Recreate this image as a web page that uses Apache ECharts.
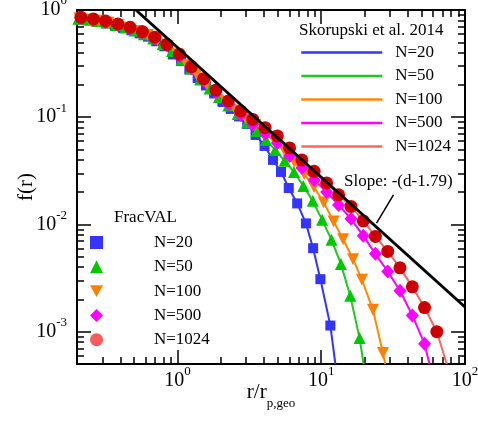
<!DOCTYPE html>
<html>
<head>
<meta charset="utf-8">
<script src="https://cdn.jsdelivr.net/npm/echarts@6/dist/echarts.min.js"></script>
<style>
  html, body { margin: 0; padding: 0; background: #fff; }
  #chart { width: 478px; height: 421px; }
</style>
</head>
<body>
<div id="chart"></div>
<script>
// FracVAL markers (r/r_p,geo , f(r))
const rCircle = [0.213, 0.26, 0.316, 0.385, 0.468, 0.57, 0.694, 0.844, 1.03, 1.25, 1.52, 1.85, 2.26, 2.75, 3.34, 4.07, 4.95, 6.02, 7.33, 8.92, 10.9, 13.2, 16.1, 19.6, 23.8, 29.0, 35.3, 43.0, 52.3, 63.7];
const fN1024 = [0.855, 0.824, 0.790, 0.740, 0.690, 0.628, 0.557, 0.479, 0.387, 0.297, 0.229, 0.179, 0.142, 0.1145, 0.0954, 0.080, 0.0669, 0.0517, 0.040, 0.0313, 0.0244, 0.0189, 0.01475, 0.0108, 0.00774, 0.00561, 0.00394, 0.00262, 0.00168, 0.00100];
// N=500 sits on the same r grid as N=1024
const fN500 = [0.837, 0.807, 0.773, 0.725, 0.675, 0.614, 0.545, 0.469, 0.370, 0.285, 0.2198, 0.1714, 0.133, 0.105, 0.0857, 0.0704, 0.0576, 0.0436, 0.0337, 0.0260, 0.0201, 0.01523, 0.01128, 0.00783, 0.00532, 0.00364, 0.00241, 0.00142, 0.000771];
const rTriDown = [0.2077, 0.2428, 0.284, 0.3321, 0.3884, 0.4543, 0.5313, 0.6214, 0.7267, 0.8499, 0.9936, 1.162, 1.359, 1.589, 1.858, 2.174, 2.542, 2.972, 3.476, 4.065, 4.754, 5.56, 6.5, 7.6, 8.89, 10.4, 12.2, 14.18, 16.63, 19.2, 22.89, 26.86];
const fN100 = [0.839, 0.817, 0.793, 0.760, 0.722, 0.682, 0.636, 0.584, 0.522, 0.462, 0.387, 0.307, 0.2505, 0.2044, 0.1684, 0.1389, 0.1157, 0.0986, 0.0848, 0.0714, 0.0595, 0.0485, 0.0383, 0.0296, 0.0224, 0.0160, 0.01064, 0.00729, 0.00475, 0.00305, 0.00160, 0.000632];
const rTriUp = [0.2044, 0.2375, 0.276, 0.3208, 0.3726, 0.433, 0.5031, 0.5846, 0.6794, 0.7894, 0.9173, 1.066, 1.239, 1.439, 1.673, 1.944, 2.259, 2.624, 3.05, 3.544, 4.118, 4.785, 5.559, 6.461, 7.507, 8.724, 10.14, 11.78, 13.69, 15.91, 18.48];
const fN50 = [0.828, 0.814, 0.790, 0.763, 0.725, 0.688, 0.644, 0.595, 0.543, 0.479, 0.415, 0.346, 0.285, 0.2251, 0.1855, 0.1546, 0.1288, 0.1073, 0.0894, 0.0745, 0.0614, 0.0496, 0.0392, 0.0309, 0.0229, 0.0166, 0.01104, 0.00719, 0.00429, 0.00216, 0.000872];
const rSquare = [0.2158, 0.2463, 0.2813, 0.3212, 0.3667, 0.4187, 0.478, 0.5459, 0.6233, 0.7114, 0.8125, 0.9277, 1.059, 1.209, 1.381, 1.577, 1.8, 2.056, 2.347, 2.679, 3.06, 3.493, 4.033, 4.618, 5.25, 5.945, 6.8, 7.827, 8.779, 9.866, 11.57];
const fN20 = [0.817, 0.798, 0.773, 0.750, 0.715, 0.680, 0.647, 0.605, 0.564, 0.511, 0.459, 0.385, 0.335, 0.279, 0.2324, 0.1979, 0.1666, 0.1389, 0.1195, 0.1018, 0.0866, 0.0684, 0.054, 0.040, 0.0309, 0.0219, 0.01572, 0.01024, 0.00601, 0.00309, 0.001142];

// Skorupski et al. 2014 curves follow the markers, then run out through the bottom frame here
const skTailR = [12.54, 19.7, 27.9, 56.6, 74.6];
const skTailF = [0.0005, 0.0005, 0.0005, 0.0005, 0.0005];

// slope -(d-1.79) guide line and its pointer
const slopeR = [0.514, 100];
const slopeF = [1, 0.0017];
const pointerR = [31.8, 24.25];
const pointerF = [0.0189, 0.0103];

// ticks
const xMajor = [1, 10, 100];
const xMajorExp = ['0', '1', '2'];
const yMajor = [0.001, 0.01, 0.1, 1];
const yMajorExp = ['-3', '-2', '-1', '0'];
const xMinor = [0.3, 0.4, 0.5, 0.6, 0.7, 0.8, 0.9, 2, 3, 4, 5, 6, 7, 8, 9, 20, 30, 40, 50, 60, 70, 80, 90];
const yMinor = [0.0006, 0.0007, 0.0008, 0.0009, 0.002, 0.003, 0.004, 0.005, 0.006, 0.007, 0.008, 0.009,
  0.02, 0.03, 0.04, 0.05, 0.06, 0.07, 0.08, 0.09, 0.2, 0.3, 0.4, 0.5, 0.6, 0.7, 0.8, 0.9];

const names = ['N=20', 'N=50', 'N=100', 'N=500', 'N=1024'];
const lineColors = ['#3434ff', '#1ec81e', '#ff8a00', '#ff00ff', '#ff6464'];
const markColors = ['#3434ff', '#00c800', '#ff8000', '#ff00ff', '#cc0000'];

const serif = 'Liberation Serif';

const pairs = (r, f) => f.map((v, i) => [r[i], v]);
const markerData = [
  pairs(rSquare, fN20),
  pairs(rTriUp, fN50),
  pairs(rTriDown, fN100),
  pairs(rCircle, fN500),
  pairs(rCircle, fN1024)
];
const markerShape = [
  { symbol: 'rect', symbolSize: 10, symbolRotate: 0 },
  { symbol: 'triangle', symbolSize: 12, symbolRotate: 0 },
  { symbol: 'triangle', symbolSize: 12, symbolRotate: 180 },
  { symbol: 'diamond', symbolSize: [13, 14], symbolRotate: 0 },
  { symbol: 'circle', symbolSize: 13, symbolRotate: 0 }
];

const tickRich = {
  b: { fontFamily: serif, fontSize: 20, color: '#000' },
  s: { fontFamily: serif, fontSize: 13, color: '#000', padding: [0, 0, 18, 0] }
};
const powLabel = (vals, exps) => v => {
  const i = vals.findIndex(t => Math.abs(t - v) / t < 1e-6);
  return i < 0 ? '' : '{b|10}{s|' + exps[i] + '}';
};

const blackLine = { show: true, onZero: false, lineStyle: { color: '#000', width: 2 } };
const tickStyle = { color: '#000', width: 1.5 };

function xAx(grid, pos, ticks, len, withLine, withLabel) {
  return {
    type: 'log', logBase: 10, min: 0.2, max: 100, gridIndex: grid, position: pos,
    axisLine: withLine ? blackLine : { show: false },
    axisTick: { show: true, inside: true, length: len, customValues: ticks, lineStyle: tickStyle },
    axisLabel: withLabel ? { show: true, customValues: xMajor, margin: 1, formatter: powLabel(xMajor, xMajorExp), rich: tickRich } : { show: false },
    splitLine: { show: false }, minorTick: { show: false }
  };
}
function yAx(grid, pos, ticks, len, withLine, withLabel) {
  return {
    type: 'log', logBase: 10, min: 0.0005, max: 1, gridIndex: grid, position: pos,
    axisLine: withLine ? blackLine : { show: false },
    axisTick: { show: true, inside: true, length: len, customValues: ticks, lineStyle: tickStyle },
    axisLabel: withLabel ? { show: true, customValues: yMajor, margin: 10, formatter: powLabel(yMajor, yMajorExp), rich: tickRich } : { show: false },
    splitLine: { show: false }, minorTick: { show: false }
  };
}

const xAxes = [
  Object.assign(xAx(0, 'bottom', xMajor, 14, true, true), {
    name: '{a|r/r}{b|p,geo}', nameLocation: 'middle', nameGap: 11, nameMoveOverlap: false,
    nameTextStyle: {
      color: '#000',
      rich: {
        a: { fontFamily: serif, fontSize: 21, color: '#000' },
        b: { fontFamily: serif, fontSize: 13, color: '#000', padding: [22, 0, 0, 0] }
      }
    }
  }),
  xAx(0, 'top', xMajor, 14, true, false),
  xAx(1, 'bottom', xMinor, 7, false, false),
  xAx(1, 'top', xMinor, 7, false, false)
];
const yAxes = [
  Object.assign(yAx(0, 'left', yMajor, 14, true, true), {
    name: 'f(r)', nameLocation: 'middle', nameRotate: 90, nameGap: 40, nameMoveOverlap: false,
    nameTextStyle: { fontFamily: serif, fontSize: 21, color: '#000' }
  }),
  yAx(0, 'right', yMajor, 14, true, false),
  yAx(1, 'left', yMinor, 7, false, false),
  yAx(1, 'right', yMinor, 7, false, false)
];

const series = [];
names.forEach((n, i) => {
  series.push({
    name: 'Skorupski ' + n, type: 'line', xAxisIndex: 0, yAxisIndex: 0,
    data: markerData[i].concat([[skTailR[i], skTailF[i]]]),
    symbol: 'none', smooth: false, z: 2,
    lineStyle: { color: lineColors[i], width: 2 },
    itemStyle: { color: lineColors[i] }
  });
});
names.forEach((n, i) => {
  series.push(Object.assign({
    name: 'FracVAL ' + n, type: 'scatter', xAxisIndex: 0, yAxisIndex: 0,
    data: markerData[i], z: 3,
    itemStyle: { color: markColors[i], opacity: 1 }
  }, markerShape[i]));
});
series.push({
  name: 'slope', type: 'line', xAxisIndex: 0, yAxisIndex: 0,
  data: pairs(slopeR, slopeF), symbol: 'none', z: 4,
  lineStyle: { color: '#000', width: 3 },
  markLine: {
    silent: true, symbol: 'none', label: { show: false },
    lineStyle: { color: '#000', width: 1.5, type: 'solid' },
    data: [[{ coord: [pointerR[0], pointerF[0]] }, { coord: [pointerR[1], pointerF[1]] }]]
  }
});

const legendText = { fontFamily: serif, fontSize: 17, color: '#000' };
const legendIcons = [
  'rect',
  'triangle',
  'path://M0,0 L10,0 L5,9 Z',
  'diamond',
  'circle'
];

const chart = echarts.init(document.getElementById('chart'), null, { renderer: 'canvas' });
chart.setOption({
  animation: false,
  backgroundColor: '#fff',
  grid: [
    { left: 77, right: 13, top: 10, bottom: 57, outerBoundsMode: 'none' },
    { left: 77, right: 13, top: 10, bottom: 57, outerBoundsMode: 'none' }
  ],
  title: [
    { text: 'Skorupski et al. 2014', left: 299, top: 22, padding: 0,
      textStyle: { fontFamily: serif, fontSize: 17, fontWeight: 'normal', color: '#000' } },
    { text: 'FracVAL', left: 114, top: 209, padding: 0,
      textStyle: { fontFamily: serif, fontSize: 17, fontWeight: 'normal', color: '#000' } }
  ],
  legend: [
    {
      orient: 'vertical', left: 300, top: 44, padding: 0,
      itemWidth: 81, itemHeight: 14, itemGap: 6.5, selectedMode: false,
      data: names.map(n => 'Skorupski ' + n),
      formatter: n => n.split(' ')[1],
      lineStyle: { width: 2.5 },
      itemStyle: { opacity: 0 },
      textStyle: Object.assign({ padding: [0, 0, 0, 8] }, legendText)
    },
    {
      orient: 'vertical', left: 90, top: 234, padding: 0,
      itemWidth: 13, itemHeight: 13, itemGap: 7.3, selectedMode: false,
      data: names.map((n, i) => {
        const item = { name: 'FracVAL ' + n, icon: legendIcons[i] };
        if (i === 4) item.itemStyle = { color: '#ff5a5a' };
        return item;
      }),
      formatter: n => n.split(' ')[1],
      textStyle: Object.assign({ padding: [0, 0, 0, 46] }, legendText)
    }
  ],
  graphic: [
    { type: 'text', left: 344, top: 173,
      style: { text: 'Slope: -(d-1.79)', fontFamily: serif, fontSize: 17, fill: '#000' } }
  ],
  xAxis: xAxes,
  yAxis: yAxes,
  series: series
});
</script>
</body>
</html>
